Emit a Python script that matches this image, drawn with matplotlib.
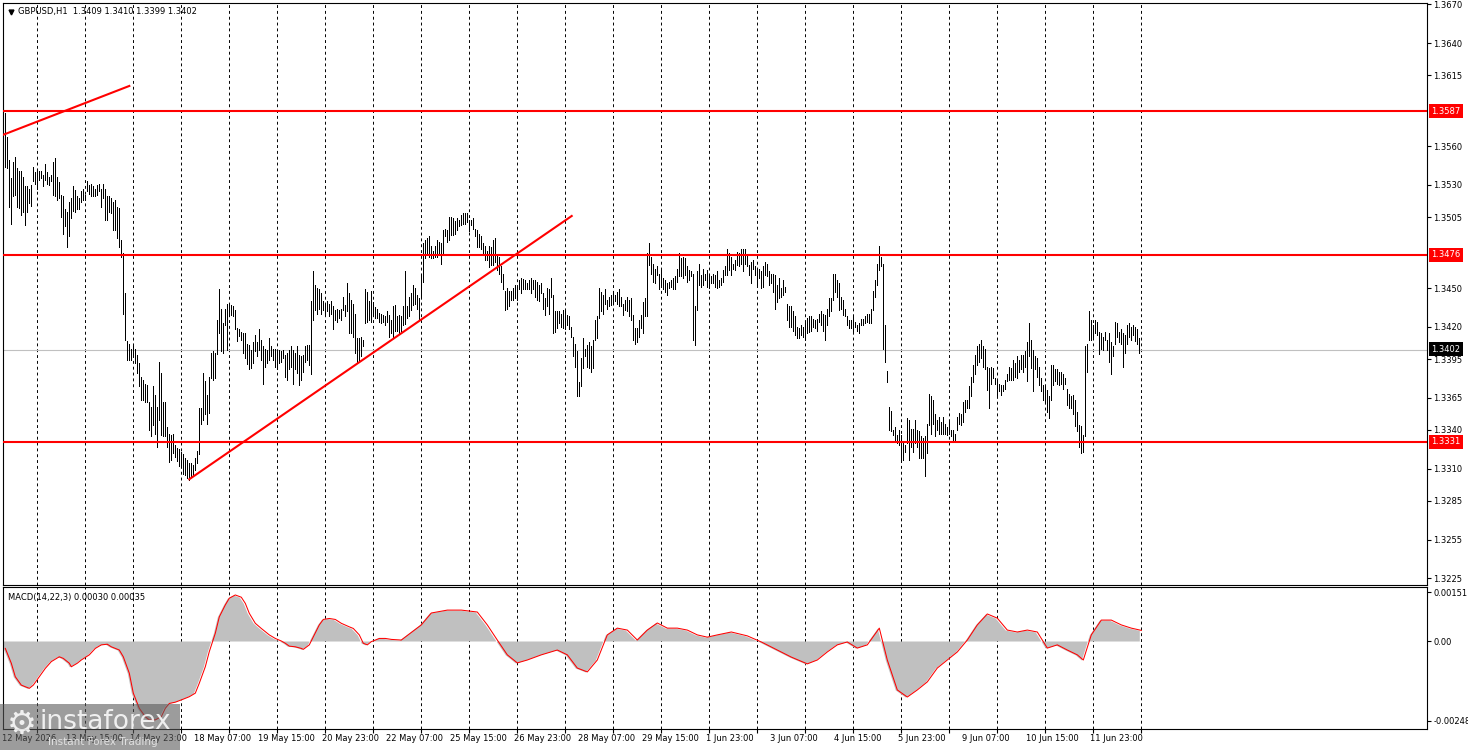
import numpy as np
import matplotlib.pyplot as plt
import matplotlib.transforms as mtransforms
from matplotlib.patches import Rectangle

# GBPUSD H1 bars, 12 May 07:00 .. 12 Jun 23:00, prices in pips above 1.3000
high_pips = [
    587, 586, 567, 549, 535, 548, 552, 543, 541, 541,
    536, 529, 529, 527, 530, 544, 540, 541, 541, 541,
    538, 546, 540, 536, 538, 548, 551, 536, 532, 522,
    521, 511, 509, 517, 520, 529, 526, 521, 520, 525,
    527, 522, 533, 530, 531, 529, 527, 530, 531, 527,
    531, 527, 521, 521, 520, 517, 518, 513, 512, 487,
    477, 446, 409, 407, 403, 405, 403, 398, 392, 381,
    379, 376, 375, 362, 358, 374, 367, 358, 393, 384,
    362, 362, 342, 337, 336, 337, 328, 326, 325, 323,
    321, 318, 317, 314, 314, 313, 318, 324, 357, 357,
    384, 378, 367, 381, 400, 401, 400, 425, 449, 434,
    423, 434, 438, 438, 437, 436, 433, 419, 418, 416,
    415, 415, 407, 406, 402, 408, 414, 408, 418, 410,
    405, 403, 402, 411, 405, 403, 403, 402, 402, 401,
    402, 398, 400, 402, 405, 402, 400, 405, 398, 397,
    398, 405, 406, 406, 440, 463, 452, 450, 449, 446,
    440, 438, 440, 438, 440, 436, 433, 434, 433, 434,
    443, 437, 454, 446, 441, 438, 430, 411, 411, 412,
    410, 449, 447, 440, 448, 439, 435, 434, 431, 430,
    429, 428, 432, 429, 425, 436, 437, 428, 429, 428,
    436, 463, 436, 443, 446, 452, 450, 445, 442, 461,
    485, 487, 489, 490, 483, 479, 483, 487, 486, 485,
    495, 496, 495, 505, 505, 504, 502, 504, 503, 507,
    508, 508, 508, 503, 503, 504, 496, 495, 492, 490,
    485, 483, 479, 483, 482, 487, 489, 476, 474, 467,
    461, 448, 450, 448, 448, 450, 452, 451, 456, 458,
    457, 456, 454, 456, 458, 456, 456, 455, 452, 454,
    446, 442, 450, 449, 458, 445, 432, 432, 432, 430,
    433, 432, 429, 428, 420, 412, 407, 401, 377, 396,
    411, 403, 406, 408, 405, 410, 425, 428, 450, 447,
    445, 449, 441, 443, 445, 446, 445, 447, 449, 443,
    438, 441, 443, 441, 442, 429, 419, 419, 425, 429,
    439, 442, 477, 485, 474, 469, 465, 467, 461, 464,
    458, 456, 454, 455, 456, 458, 459, 465, 477, 473,
    474, 473, 467, 464, 463, 461, 436, 463, 469, 460,
    465, 461, 464, 460, 459, 461, 460, 463, 456, 458,
    464, 467, 480, 477, 474, 469, 472, 478, 477, 480,
    480, 480, 476, 468, 470, 472, 467, 465, 465, 463,
    467, 470, 469, 463, 461, 461, 460, 452, 458, 450,
    456, 451, 438, 436, 436, 432, 428, 420, 419, 421,
    420, 423, 427, 428, 428, 426, 425, 426, 430, 432,
    430, 429, 434, 442, 442, 461, 461, 456, 454, 443,
    441, 434, 428, 425, 425, 429, 424, 421, 423, 426,
    426, 428, 430, 430, 434, 448, 456, 469, 483, 474,
    469, 421, 386, 358, 355, 340, 342, 336, 340, 336,
    331, 328, 349, 348, 341, 341, 348, 340, 339, 335,
    334, 335, 345, 368, 366, 363, 352, 348, 350, 346,
    350, 345, 342, 346, 340, 340, 337, 350, 353, 352,
    362, 363, 363, 374, 381, 390, 398, 405, 407, 410,
    405, 403, 389, 388, 389, 388, 380, 379, 376, 375,
    375, 379, 383, 389, 388, 394, 392, 397, 394, 398,
    398, 401, 408, 423, 410, 402, 397, 396, 389, 380,
    375, 374, 371, 366, 390, 390, 387, 387, 385, 385,
    383, 380, 372, 368, 366, 367, 363, 354, 344, 343,
    336, 405, 407, 432, 425, 421, 425, 424, 416, 415,
    412, 416, 410, 415, 408, 405, 424, 423, 416, 418,
    415, 414, 421, 423, 420, 421, 420, 418, 411,
]
low_pips = [
    579, 544, 543, 513, 500, 521, 522, 513, 512, 507,
    509, 499, 509, 516, 514, 533, 531, 527, 534, 535,
    529, 534, 531, 530, 533, 522, 521, 518, 520, 505,
    492, 498, 482, 490, 504, 510, 509, 511, 511, 517,
    518, 518, 525, 523, 521, 521, 521, 522, 525, 513,
    520, 503, 503, 509, 508, 495, 495, 489, 482, 474,
    430, 410, 394, 394, 394, 397, 392, 384, 374, 363,
    363, 362, 362, 340, 335, 344, 337, 327, 348, 336,
    335, 335, 327, 315, 317, 322, 319, 316, 312, 311,
    306, 305, 303, 301, 304, 304, 309, 314, 321, 345,
    348, 352, 345, 353, 380, 379, 380, 399, 415, 401,
    400, 421, 402, 428, 429, 428, 418, 409, 413, 410,
    400, 396, 391, 387, 388, 392, 401, 397, 402, 394,
    376, 389, 392, 394, 397, 394, 389, 387, 392, 393,
    396, 381, 379, 387, 389, 376, 387, 384, 375, 379,
    385, 393, 394, 390, 383, 425, 433, 430, 434, 430,
    433, 429, 432, 428, 430, 418, 425, 424, 427, 425,
    433, 428, 432, 415, 415, 412, 400, 392, 394, 397,
    405, 423, 424, 425, 424, 428, 427, 427, 424, 423,
    424, 421, 424, 412, 415, 412, 417, 417, 415, 417,
    421, 422, 427, 428, 433, 437, 438, 434, 425, 443,
    455, 473, 476, 474, 473, 473, 474, 474, 476, 469,
    477, 490, 486, 487, 491, 491, 492, 495, 498, 499,
    500, 500, 501, 494, 499, 496, 490, 482, 482, 480,
    477, 472, 472, 466, 468, 468, 470, 464, 461, 455,
    449, 433, 434, 436, 441, 441, 442, 441, 449, 446,
    449, 449, 449, 449, 446, 449, 443, 441, 440, 446,
    434, 429, 436, 430, 443, 415, 416, 419, 423, 420,
    419, 418, 421, 418, 412, 397, 389, 366, 366, 374,
    388, 397, 389, 388, 385, 388, 410, 411, 427, 432,
    430, 438, 434, 436, 437, 438, 440, 438, 436, 436,
    429, 433, 432, 428, 425, 410, 407, 408, 412, 419,
    415, 428, 428, 468, 461, 455, 454, 460, 449, 452,
    449, 447, 445, 450, 451, 449, 449, 455, 459, 459,
    458, 460, 455, 456, 459, 410, 406, 433, 452, 451,
    452, 456, 451, 450, 454, 454, 451, 450, 451, 452,
    455, 460, 460, 464, 460, 465, 464, 468, 467, 469,
    463, 469, 467, 460, 454, 465, 460, 452, 458, 450,
    451, 460, 459, 452, 454, 447, 434, 439, 442, 443,
    445, 447, 425, 420, 420, 417, 414, 411, 411, 414,
    412, 410, 415, 416, 417, 420, 419, 417, 424, 421,
    417, 410, 421, 428, 432, 441, 447, 443, 433, 434,
    429, 428, 421, 419, 419, 417, 420, 417, 415, 421,
    421, 423, 424, 423, 423, 433, 443, 452, 464, 467,
    403, 393, 377, 340, 339, 336, 332, 330, 328, 315,
    317, 323, 330, 317, 327, 323, 330, 327, 318, 318,
    318, 304, 322, 344, 337, 345, 335, 340, 337, 337,
    337, 337, 336, 337, 335, 332, 331, 340, 345, 344,
    346, 354, 357, 357, 366, 377, 383, 390, 393, 396,
    389, 387, 371, 357, 376, 380, 376, 367, 370, 367,
    370, 372, 378, 379, 379, 379, 381, 380, 385, 387,
    385, 389, 378, 397, 388, 370, 387, 381, 375, 370,
    363, 362, 354, 349, 363, 375, 378, 376, 375, 376,
    372, 376, 359, 357, 357, 352, 343, 339, 327, 322,
    323, 335, 385, 410, 410, 412, 415, 414, 399, 403,
    402, 410, 402, 393, 383, 397, 407, 412, 408, 407,
    389, 400, 407, 412, 410, 414, 409, 407, 400,
]

# MACD(14,22,3) main line, read at bar positions (units of 1e-5)
macd_bar = [0, 3, 5, 8, 12, 14, 17, 20, 23, 27, 29, 32, 33, 36, 38, 42, 45, 48, 51, 53,
            57, 59, 62, 64, 67, 70, 72, 75, 78, 80, 82, 85, 88, 92, 95, 97, 100, 102, 105, 107,
            110, 112, 115, 118, 120, 122, 125, 128, 130, 132, 135, 138, 140, 142, 145, 148, 149, 152, 154, 157,
            159, 162, 165, 168, 172, 174, 177, 179, 181, 183, 187, 190, 193, 198, 208, 213, 221, 228, 236, 241,
            246, 251, 256, 261, 268, 276, 281, 286, 291, 296, 301, 306, 311, 316, 321, 326, 331, 336, 341, 346,
            351, 356, 363, 371, 378, 386, 393, 401, 406, 411, 416, 421, 426, 431, 437, 441, 446, 451, 456, 461,
            466, 471, 476, 481, 486, 491, 496, 501, 506, 511, 516, 521, 526, 531, 536, 539, 543, 548, 553, 558,
            563, 568]
macd_val = [-23, -69, -111, -137, -147, -137, -111, -85, -64, -49, -54, -69, -80, -69, -59, -43, -23, -12, -10, -18,
            -28, -49, -100, -162, -209, -235, -245, -245, -235, -209, -194, -190, -183, -173, -162, -131, -80, -33, 24, 75,
            112, 133, 143, 136, 117, 86, 55, 39, 29, 19, 8, 0, -7, -16, -18, -23, -26, -12, 13, 50,
            67, 70, 67, 55, 44, 39, 19, -7, -12, -2, 8, 8, 5, 3, 50, 87, 96, 96, 90, 50,
            3, -43, -68, -59, -43, -28, -43, -84, -96, -59, 19, 40, 34, 3, 34, 56, 40, 40, 34, 19,
            12, 19, 28, 16, -3, -28, -50, -71, -59, -34, -12, -3, -22, -12, 40, -59, -152, -174, -152, -127,
            -84, -59, -34, 3, 50, 84, 71, 34, 28, 34, 28, -22, -12, -28, -43, -59, 19, 65, 65, 50,
            40, 33]

levels = [1.3587, 1.3476, 1.3331]
last_price = 1.3402
trend1 = ([-0.3, 63.0], [1.35687, 1.36067])
trend2 = ([93.0, 284.2], [1.33018, 1.35059])

price_ticks = [1.3670, 1.3640, 1.3615, 1.3560, 1.3530, 1.3505, 1.3450,
               1.3420, 1.3395, 1.3365, 1.3340, 1.3310, 1.3285, 1.3255, 1.3225]
macd_ticks = [0.00151, 0.0, -0.00248]
macd_tick_labels = ['0.00151', '0.00', '-0.00248']

time_labels = ['12 May 2026', '13 May 15:00', '14 May 23:00', '18 May 07:00', '19 May 15:00',
               '20 May 23:00', '22 May 07:00', '25 May 15:00', '26 May 23:00', '28 May 07:00',
               '29 May 15:00', '1 Jun 23:00', '3 Jun 07:00', '4 Jun 15:00', '5 Jun 23:00',
               '9 Jun 07:00', '10 Jun 15:00', '11 Jun 23:00']
label_step = 32
day_starts = [17 + 24 * k for k in range(24)]

W, H = 1468, 750
fig = plt.figure(figsize=(W / 100, H / 100), dpi=100)
fig.patch.set_facecolor('white')


def px_axes(x0, y0, x1, y1):
    return fig.add_axes([x0 / W, 1 - y1 / H, (x1 - x0) / W, (y1 - y0) / H])


ax = px_axes(2.7, 2.5, 1427, 585)
am = px_axes(2.7, 587.3, 1427, 729.3)

fs = 6
idx = np.arange(len(high_pips))
highs = 1.3 + np.array(high_pips) / 10000.0
lows = 1.3 + np.array(low_pips) / 10000.0

# price bars, one pixel wide
ax.vlines(idx, lows, highs, colors='black', linewidth=0.5, antialiased=False, zorder=3)

for a in (ax, am):
    a.set_xlim(-0.3, 711.85)
    for d in day_starts:
        a.axvline(d, color='black', lw=0.7, ls=(0, (3, 3)), zorder=1)
    for s in a.spines.values():
        s.set_linewidth(0.8)
        s.set_color('black')

ax.set_ylim(1.32198, 1.36714)
ax.axhline(last_price, color='#c0c0c0', lw=0.8, zorder=2)
for lvl in levels:
    ax.axhline(lvl, color='red', lw=1.5, zorder=4)
ax.plot(*trend1, color='red', lw=1.5, zorder=4)
ax.plot(*trend2, color='red', lw=1.5, zorder=4)

ax.yaxis.tick_right()
ax.set_yticks(price_ticks)
ax.set_yticklabels(['%.4f' % t for t in price_ticks])
ax.tick_params(axis='y', direction='out', length=3, width=0.8, labelsize=fs, pad=1.5)
ax.tick_params(axis='x', bottom=False, labelbottom=False)

trans = mtransforms.blended_transform_factory(ax.transAxes, ax.transData)
for lvl in levels:
    ax.text(1.0032, lvl, '%.4f' % lvl, transform=trans, ha='left', va='center', fontsize=fs,
            color='white', bbox=dict(boxstyle='square,pad=0.3', fc='red', ec='none'),
            clip_on=False, zorder=10)
ax.text(1.0032, last_price + 0.00005, '%.4f' % last_price, transform=trans, ha='left', va='center',
        fontsize=fs, color='white', bbox=dict(boxstyle='square,pad=0.3', fc='black', ec='none'),
        clip_on=False, zorder=10)

ax.plot([0.0055], [0.9845], marker='v', color='black', ms=3.5, transform=ax.transAxes, clip_on=False)
ax.text(0.0107, 0.9845, 'GBPUSD,H1  1.3409 1.3410 1.3399 1.3402', transform=ax.transAxes,
        ha='left', va='center', fontsize=fs)

# MACD panel
mx = np.array(macd_bar, dtype=float)
mv = np.array(macd_val) / 1e5
am.fill_between(mx, 0, mv, color='#c0c0c0', lw=0, zorder=2)
am.plot(mx + 1, mv, color='red', lw=0.75, zorder=3)
am.set_ylim(-0.002742, 0.001668)
am.yaxis.tick_right()
am.set_yticks(macd_ticks)
am.set_yticklabels(macd_tick_labels)
am.tick_params(axis='y', direction='out', length=3, width=0.8, labelsize=fs, pad=1.5)
am.set_xticks(day_starts)
am.set_xticklabels([])
am.tick_params(axis='x', direction='out', length=3, width=0.8)
am.text(0.004, 0.93, 'MACD(14,22,3) 0.00030 0.00035', transform=am.transAxes,
        ha='left', va='center', fontsize=fs)

tx = mtransforms.blended_transform_factory(am.transData, am.transAxes)
for k, lab in enumerate(time_labels):
    am.text(k * label_step - 0.5, -0.035, lab, transform=tx, ha='left', va='top', fontsize=fs)

# watermark
fig.patches.append(Rectangle((0, 0), 180 / W, 46 / H, transform=fig.transFigure,
                             facecolor='#5a5a5a', alpha=0.6, edgecolor='none', zorder=5))
fig.text(22 / W, 1 - 724 / H, '\u2699', fontsize=24, color='white', alpha=0.85,
         ha='center', va='center', zorder=6)
fig.text(40 / W, 1 - 722 / H, 'instaforex', fontsize=19, color='white', alpha=0.85,
         ha='left', va='center', zorder=6)
fig.text(48 / W, 1 - 742 / H, 'Instant Forex Trading', fontsize=7.5, color='#e0e0e0',
         ha='left', va='center', zorder=6)

fig.savefig('out.png', dpi=100, facecolor='white')
